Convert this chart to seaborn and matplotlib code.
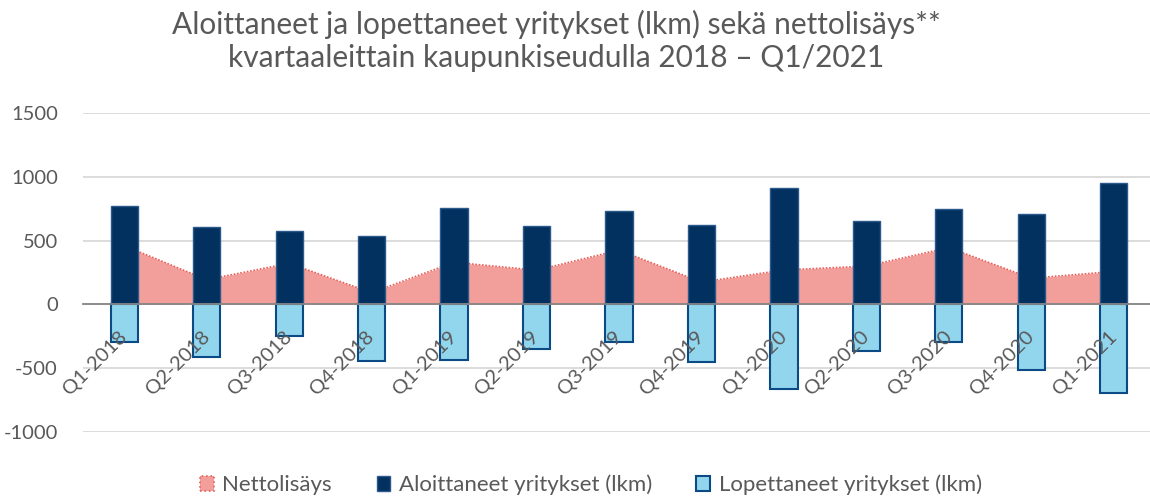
import matplotlib
matplotlib.use("Agg")
import matplotlib.pyplot as plt
import seaborn as sns
import pandas as pd
import numpy as np
from matplotlib.patches import Patch

quarters = ["Q1-2018", "Q2-2018", "Q3-2018", "Q4-2018",
            "Q1-2019", "Q2-2019", "Q3-2019", "Q4-2019",
            "Q1-2020", "Q2-2020", "Q3-2020", "Q4-2020", "Q1-2021"]
aloittaneet = [774, 609, 577, 533, 758, 614, 735, 625, 911, 656, 748, 706, 953]
lopettaneet = [-297, -415, -250, -441, -436, -349, -297, -454, -664, -368, -297, -512, -695]
nettolisays = [460, 194, 322, 92, 330, 268, 425, 175, 270, 300, 445, 205, 258]

title = "Aloittaneet ja lopettaneet yritykset (lkm) sekä nettolisäys**\nkvartaaleittain kaupunkiseudulla 2018 – Q1/2021"
legend_labels = ["Nettolisäys", "Aloittaneet yritykset (lkm)", "Lopettaneet yritykset (lkm)"]
yticks = [-1000, -500, 0, 500, 1000, 1500]

sns.set_theme(style="white")
plt.rcParams['font.family'] = ['Lato', 'DejaVu Sans']

NAVY = "#03315F"
LIGHT = "#92D6EE"
EDGE = "#0C4A85"
PINK = "#F29E9A"
RED = "#E8605A"
TXT = "#595959"

df = pd.DataFrame({"q": quarters, "start": aloittaneet, "stop": lopettaneet, "net": nettolisays})

fig = plt.figure(figsize=(11.5, 4.99), dpi=100)
ax = fig.add_axes([83/1150, 1 - 432/499, 1072/1150, 319/499])

x = np.arange(len(quarters))
ax.fill_between(x, 0, df["net"], color=PINK, zorder=1, linewidth=0)
ax.plot(x, df["net"], color=RED, linestyle=(0, (1, 1)), linewidth=1.2, zorder=1.5)

sns.barplot(data=df, x="q", y="start", ax=ax, color=NAVY, width=0.33,
            edgecolor="#2A5A8C", linewidth=1.0, saturation=1, zorder=3)
sns.barplot(data=df, x="q", y="stop", ax=ax, color=LIGHT, width=0.33,
            edgecolor=EDGE, linewidth=1.5, saturation=1, zorder=3)

ax.set_xlim(-0.5, len(quarters) - 0.5)
ax.set_ylim(-1000, 1500)
ax.set_yticks(yticks)
ax.set_yticklabels([str(v) for v in yticks])
ax.yaxis.grid(True, color="#D9D9D9", linewidth=1.3, zorder=0)
ax.set_axisbelow(True)
for s in ["top", "right", "left"]:
    ax.spines[s].set_visible(False)
ax.spines["bottom"].set_position(("data", 0))
ax.spines["bottom"].set_color("#868686")
ax.spines["bottom"].set_linewidth(1.3)
ax.spines["bottom"].set_zorder(4)
ax.xaxis.set_zorder(5)
ax.set_xlabel("")
ax.set_ylabel("")
ax.tick_params(axis="y", length=0, pad=18, labelsize=14.5, labelcolor=TXT)
ax.tick_params(axis="x", length=0, pad=21, labelsize=14.5, labelcolor=TXT)
for lab in ax.get_xticklabels():
    lab.set_rotation(45)
    lab.set_ha("right")
    lab.set_va("center")
    lab.set_rotation_mode("anchor")

fig.text(556/1150, 1 - 41/499, title, ha="center", va="center", fontsize=21.5,
         color=TXT, linespacing=1.2)

handles = [Patch(facecolor=PINK, edgecolor=RED, linestyle=":", linewidth=1.2),
           Patch(facecolor=NAVY, edgecolor="#2A5A8C"),
           Patch(facecolor=LIGHT, edgecolor=EDGE, linewidth=1.5)]
fig.legend(handles, legend_labels, loc="center", bbox_to_anchor=(591/1150, 1 - 485/499),
           ncol=3, frameon=False, fontsize=16, handlelength=0.6, handleheight=0.6,
           handletextpad=0.4, columnspacing=2.0, labelcolor=TXT)

fig.savefig("out.png", dpi=100)
